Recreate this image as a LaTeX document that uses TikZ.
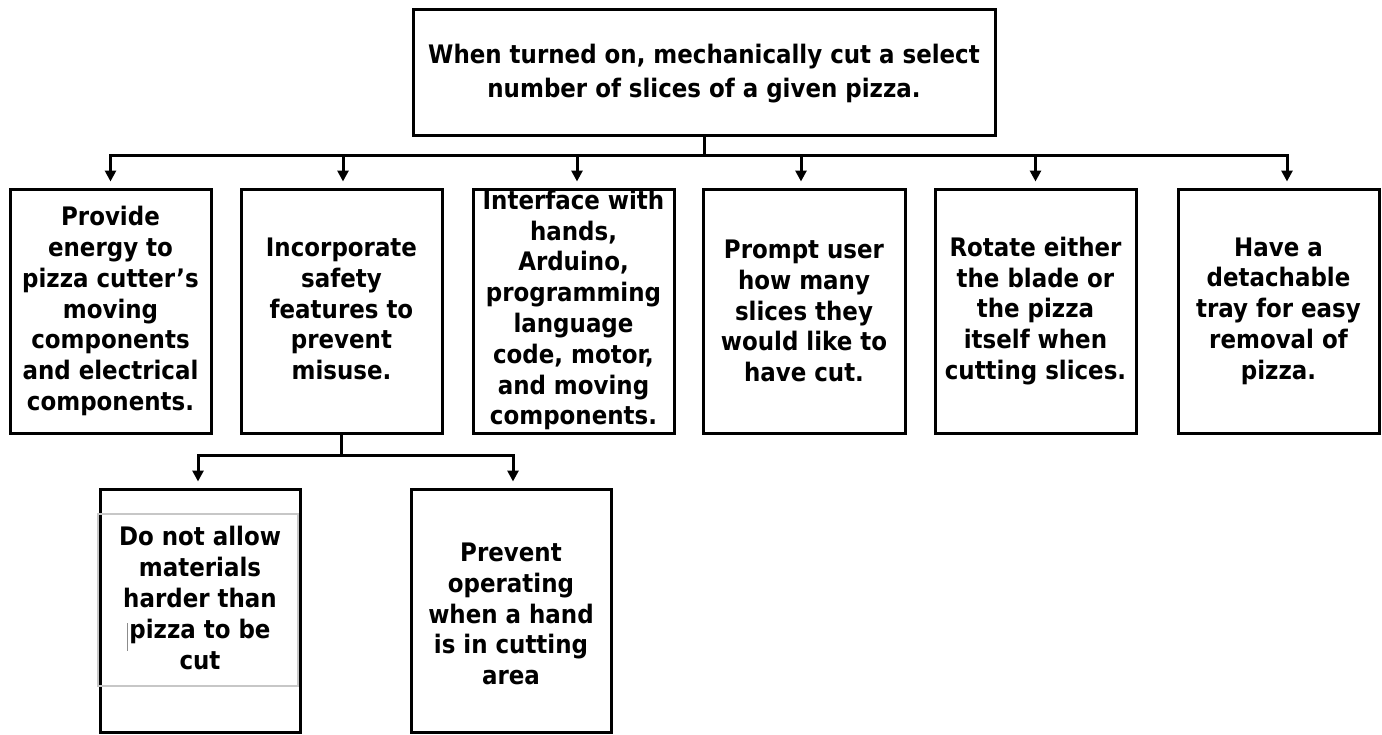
\documentclass[tikz,border=0pt]{standalone}
\usepackage{fontspec}
\setmainfont{DejaVu Sans Condensed}[BoldFont={DejaVu Sans Condensed Bold}]
\usetikzlibrary{arrows.meta}
\begin{document}
\begin{tikzpicture}[x=1pt,y=-1pt,
  box/.style={draw, line width=3pt, inner sep=0pt, minimum width=201pt, minimum height=244pt},
  topbox/.style={draw, line width=3pt, inner sep=0pt, minimum width=582pt, minimum height=126pt},
  subbox/.style={draw, line width=3pt, inner sep=0pt, minimum width=200pt, minimum height=243pt},
  txt/.style={align=center, font=\bfseries\fontsize{25.5}{30.8}\selectfont},
  toptxt/.style={align=center, font=\bfseries\fontsize{25.5}{34}\selectfont},
  ln/.style={line width=3pt},
  arr/.style={line width=3pt, -{Triangle[length=11pt,width=11pt]}, shorten >=6pt}]
\useasboundingbox (0,0) rectangle (1382,734);
\fill[white] (0,0) rectangle (1382,734);

% top
\node[topbox] (top) at (704,72) {};
\node[toptxt] at (704,74) {When turned on, mechanically cut a select\\number of slices of a given pizza.};

% level 2 texts (drawn first, box 3 border lies over its text)
\node[txt] at (110.5,311) {Provide\\energy to\\pizza cutter’s\\moving\\components\\and electrical\\components.};
\node[txt] at (341.5,309) {Incorporate\\safety\\features to\\prevent\\misuse.};
\node[txt] at (573.5,310) {Interface with\\hands,\\Arduino,\\programming\\language\\code, motor,\\and moving\\components.};
\node[txt] at (804,311) {Prompt user\\how many\\slices they\\would like to\\have cut.};
\node[txt] at (1035.5,311) {Rotate either\\the blade or\\the pizza\\itself when\\cutting slices.};
\node[txt] at (1278.5,311) {Have a\\detachable\\tray for easy\\removal of\\pizza.};

% level 2 boxes
\node[box] (b1) at (110.5,311) {};
\node[box] (b2) at (341.5,311) {};
\node[box] (b3) at (573.5,311) {};
\node[box, minimum width=202pt] (b4) at (804,311) {};
\node[box] (b5) at (1035.5,311) {};
\node[box] (b6) at (1278.5,311) {};

% level 3
\node[subbox] (b7) at (200,610.5) {};
\node[subbox] (b8) at (511,610.5) {};
\draw[black!22, line width=2pt] (98,514) rectangle (298,686);
\node[txt] at (200,598) {Do not allow\\materials\\harder than\\pizza to be\\cut};
\draw[black!45, line width=1pt] (127,623) -- (127,651);
\node[txt] at (511,614) {Prevent\\operating\\when a hand\\is in cutting\\area};

% connectors
\coordinate (busL) at (110,155);
\coordinate (busR) at (1287,155);
\draw[ln] (top.south) -- (top.south |- busL);
\draw[ln, line cap=rect] (busL) -- (busR);
\draw[arr] (b1.north |- busL) -- (b1.north);
\draw[arr] ([xshift=1.5pt]b2.north |- busL) -- ([xshift=1.5pt]b2.north);
\draw[arr] ([xshift=3.5pt]b3.north |- busL) -- ([xshift=3.5pt]b3.north);
\draw[arr] ([xshift=-3pt]b4.north |- busL) -- ([xshift=-3pt]b4.north);
\draw[arr] (b5.north |- busL) -- (b5.north);
\draw[arr] ([xshift=8.5pt]b6.north |- busL) -- ([xshift=8.5pt]b6.north);

\coordinate (subL) at (198,455);
\coordinate (subR) at (513,455);
\draw[ln] (b2.south) -- (b2.south |- subL);
\draw[ln, line cap=rect] (subL) -- (subR);
\draw[arr] ([xshift=-2pt]b7.north |- subL) -- ([xshift=-2pt]b7.north);
\draw[arr] ([xshift=2pt]b8.north |- subL) -- ([xshift=2pt]b8.north);
\end{tikzpicture}
\end{document}
